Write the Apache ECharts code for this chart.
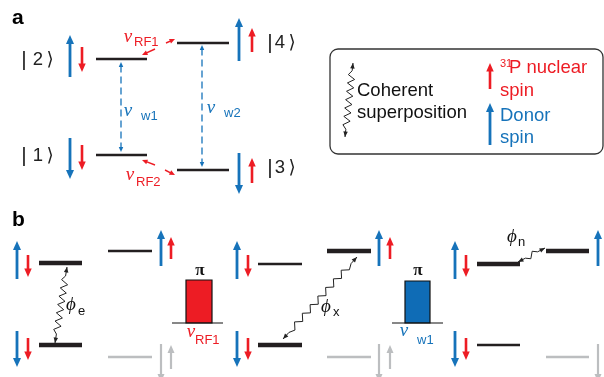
<!DOCTYPE html>
<html><head><meta charset="utf-8">
<script src="https://cdn.jsdelivr.net/npm/echarts@6/dist/echarts.min.js"></script>
<style>html,body{margin:0;padding:0;background:#fff}#c{width:604px;height:377px}</style>
</head><body><div id="c"></div>
<script>
// ---------- diagram data (diagram units: x 0..604, y 0..377, y downward) ----------
// energy levels: [x1, x2, y]
const levelsThin  = [[96,147,59],[96,147,155],[177,229,43],[177,229,170],[108,152,251],[258,302,264],[477,520,345]];
const levelsThick = [[39,82,263],[39,82,345],[258,302,345],[327,371,251],[477,520,264],[546,589,251]];
const levelsGray  = [[108,152,357],[327,371,357],[546,589,357]];
// spin arrows: [x, yTail, yTip]
const spinBlue = [[70,77,35],[70,138,179],[239,61,18],[239,153,194],
  [17,279,241],[237,279,241],[455,279,241],[17,331,367],[237,331,367],[455,331,367],
  [161,266,230],[379,266,230],[598,266,230],[490,145,103]];
const spinRed = [[82,47,72],[82,145,170],[252,52,28],[252,183,158],
  [28,255,277],[248,255,277],[466,255,277],[28,338,360],[248,338,360],[466,338,360],
  [171,259,237],[390,259,237],[609,259,237],[490,89,63]];
const spinGray = [[161,344,382],[171,369,345],[379,344,382],[390,369,345],[598,344,382],[609,369,345]];
// transitions: dashed microwave [x, y1, y2]; RF arrows [xTail, yTail, xTip, yTip]
const mwTransitions = [[121,62,152],[202,45,167]];
const rfArrows = [[155,49,142,55],[166,43,175,39],[155,165,142,160],[165,170,175,175]];
// coherent superposition wiggles: [x1, y1, x2, y2, amplitude, step]
const wiggles = [[353,63,345,137,3.4,4.2],[67,267,55,343,3.4,4.2],[283,339,357,257,2.9,5.8],[518,262,545,248,3,4.6]];
// pulses: [xLeft, xRight, yTop, yBase, baseLeft, baseRight]
const pulses = [[186,212,280,323,172,223],[405,430,281,323,392,443]];
const pulseColors = ['#ed1c24','#0f6cb6'];
// legend box [x1, y1, x2, y2]
const legendBox = [[330,49,603,154]];
// texts: [text, x, y, font, color, align]
const texts = [
  ['a',12,18,'bold','#000','left'],['b',12,220,'bold','#000','left'],
  ['|',24,60,'bar','#222','center'],['2',38,60,'sans','#222','center'],['\u27E9',50,60,'sans','#222','center'],
  ['|',24,156,'bar','#222','center'],['1',38,156,'sans','#222','center'],['\u27E9',50,156,'sans','#222','center'],
  ['|',270,43,'bar','#222','center'],['4',280,43,'sans','#222','center'],['\u27E9',292,43,'sans','#222','center'],
  ['|',270,168,'bar','#222','center'],['3',280,168,'sans','#222','center'],['\u27E9',292,168,'sans','#222','center'],
  ['\u03BD',128,37,'greek','#ed1c24','center'],['RF1',134,42,'sub','#ed1c24','left'],
  ['\u03BD',130,175,'greek','#ed1c24','center'],['RF2',136,182,'sub','#ed1c24','left'],
  ['\u03BD',128,111,'greek','#1673ba','center'],['w1',141,116,'sub','#1673ba','left'],
  ['\u03BD',211,108,'greek','#1673ba','center'],['w2',224,113,'sub','#1673ba','left'],
  ['Coherent',357,91,'sans','#111','left'],['superposition',357,113,'sans','#111','left'],
  ['31',500,64,'sup','#ed1c24','left'],['P nuclear',509,68,'sans','#ed1c24','left'],['spin',500,91,'sans','#ed1c24','left'],
  ['Donor',500,116,'sans','#1673ba','left'],['spin',500,138,'sans','#1673ba','left'],
  ['\u03D5',71,305,'greek','#111','center'],['e',78,311,'sub','#111','left'],
  ['\u03D5',326,307,'greek','#111','center'],['x',333,312,'sub','#111','left'],
  ['\u03D5',512,237,'greek','#111','center'],['n',518,242,'sub','#111','left'],
  ['\u03C0',200,271,'pi','#111','center'],['\u03C0',418,271,'pi','#111','center'],
  ['\u03BD',191,332,'greek','#ed1c24','center'],['RF1',195,340,'sub','#ed1c24','left'],
  ['\u03BD',404,331,'greek','#1673ba','center'],['w1',417,340,'sub','#1673ba','left']
];
const BLUE = '#1673ba', RED = '#ed1c24', GRAY = '#bcbec0', BLACK = '#231f20';
const FONTS = {
  bold: 'bold 21px "Liberation Sans", Arial, sans-serif',
  sans: '18.5px "Liberation Sans", Arial, "DejaVu Sans", sans-serif',
  bar: '21px "Liberation Sans", Arial, sans-serif',
  sub: '13px "Liberation Sans", Arial, sans-serif',
  sup: '11px "Liberation Sans", Arial, sans-serif',
  greek: 'italic 19px "Liberation Serif", "DejaVu Serif", serif',
  pi: 'bold 17px "Liberation Serif", "DejaVu Serif", serif'
};

// ---------- drawing helpers ----------
function head(tip, from, len, wid, color) {
  const dx = tip[0]-from[0], dy = tip[1]-from[1], L = Math.hypot(dx,dy) || 1;
  const ux = dx/L, uy = dy/L, bx = tip[0]-ux*len, by = tip[1]-uy*len;
  return {type:'polygon', shape:{points:[[tip[0],tip[1]],[bx-uy*wid/2,by+ux*wid/2],[bx+uy*wid/2,by-ux*wid/2]]}, style:{fill:color}};
}
function shorten(a, b, d) { // move b toward a by d
  const dx = b[0]-a[0], dy = b[1]-a[1], L = Math.hypot(dx,dy) || 1;
  return [b[0]-dx/L*d, b[1]-dy/L*d];
}
function arrowGroup(p0, p1, color, lw, len, wid, both, dash) {
  const a = both ? shorten(p1, p0, len*0.7) : p0;
  const b = shorten(p0, p1, len*0.7);
  const ch = [{type:'line', shape:{x1:a[0],y1:a[1],x2:b[0],y2:b[1]}, style:{stroke:color, lineWidth:lw, lineDash:dash||null}}];
  ch.push(head(p1, p0, len, wid, color));
  if (both) ch.push(head(p0, p1, len, wid, color));
  return {type:'group', children:ch};
}
function zigzag(p0, p1, amp, step, lead) {
  const dx = p1[0]-p0[0], dy = p1[1]-p0[1], L = Math.hypot(dx,dy);
  const ux = dx/L, uy = dy/L, nx = -uy, ny = ux;
  const n = Math.max(2, Math.floor((L-2*lead)/step));
  const s0 = (L - n*step)/2;
  const pts = [p0, [p0[0]+ux*s0, p0[1]+uy*s0]];
  for (let i = 1; i < n; i++) {
    const t = s0 + i*step, o = (i%2 ? 1 : -1)*amp;
    pts.push([p0[0]+ux*t+nx*o, p0[1]+uy*t+ny*o]);
  }
  pts.push([p0[0]+ux*(L-s0), p0[1]+uy*(L-s0)], p1);
  return pts;
}
function custom(data, render) {
  return {type:'custom', coordinateSystem:'cartesian2d', silent:true, clip:false,
    data: data.map((d, i) => [i, 0]), encode:{x:0, y:1}, renderItem: (params, api) => render(data[params.dataIndex], api)};
}
const P = (api, x, y) => api.coord([x, y]);

function levelSeries(arr, color, lw) {
  return custom(arr, (d, api) => {
    const a = P(api, d[0], d[2]), b = P(api, d[1], d[2]);
    return {type:'line', shape:{x1:a[0],y1:a[1],x2:b[0],y2:b[1]}, style:{stroke:color, lineWidth:lw}};
  });
}
function spinSeries(arr, color, lw, len, wid) {
  return custom(arr, (d, api) => arrowGroup(P(api,d[0],d[1]), P(api,d[0],d[2]), color, lw, len, wid, false));
}

const series = [
  custom(legendBox, (d, api) => {
    const a = P(api,d[0],d[1]), b = P(api,d[2],d[3]);
    return {type:'rect', shape:{x:a[0],y:a[1],width:b[0]-a[0],height:b[1]-a[1],r:8}, style:{fill:'none', stroke:'#333', lineWidth:1.3}};
  }),
  levelSeries(levelsThin, BLACK, 2.4),
  levelSeries(levelsThick, BLACK, 4.6),
  levelSeries(levelsGray, GRAY, 2.4),
  spinSeries(spinBlue, BLUE, 2.8, 9, 8),
  spinSeries(spinRed, RED, 2.6, 8.5, 7.5),
  spinSeries(spinGray, GRAY, 2.2, 8, 7),
  custom(mwTransitions, (d, api) => arrowGroup(P(api,d[0],d[1]), P(api,d[0],d[2]), BLUE, 1.3, 5, 4.5, true, [7,4])),
  custom(rfArrows, (d, api) => arrowGroup(P(api,d[0],d[1]), P(api,d[2],d[3]), RED, 1.4, 5.5, 5, false)),
  custom(wiggles, (d, api) => {
    const p0 = P(api,d[0],d[1]), p1 = P(api,d[2],d[3]);
    const pts = zigzag(p0, p1, d[4], d[5], 7);
    return {type:'group', children:[
      {type:'polyline', shape:{points:pts}, style:{stroke:'#222', lineWidth:1, fill:null}},
      head(p0, pts[1], 5.5, 4.5, '#222'), head(p1, pts[pts.length-2], 5.5, 4.5, '#222')
    ]};
  }),
  custom(pulses, (d, api) => {
    const i = pulses.indexOf(d);
    const tl = P(api,d[0],d[2]), br = P(api,d[1],d[3]), bl = P(api,d[4],d[3]), brr = P(api,d[5],d[3]);
    return {type:'group', children:[
      {type:'rect', shape:{x:tl[0],y:tl[1],width:br[0]-tl[0],height:br[1]-tl[1]}, style:{fill:pulseColors[i], stroke:'#111', lineWidth:1.2}},
      {type:'line', shape:{x1:bl[0],y1:bl[1],x2:brr[0],y2:brr[1]}, style:{stroke:'#111', lineWidth:1.1}}
    ]};
  }),
  custom(texts, (d, api) => {
    const p = P(api, d[1], d[2]);
    return {type:'text', style:{text:d[0], x:p[0], y:p[1], font:FONTS[d[3]], fill:d[4], align:d[5], verticalAlign:'middle'}};
  })
];

const chart = echarts.init(document.getElementById('c'), null, {renderer:'canvas'});
chart.setOption({
  animation:false,
  grid:{left:0, right:0, top:0, bottom:0},
  xAxis:{type:'value', min:0, max:604, show:false},
  yAxis:{type:'value', min:0, max:377, inverse:true, show:false},
  series: series
});
</script></body></html>
